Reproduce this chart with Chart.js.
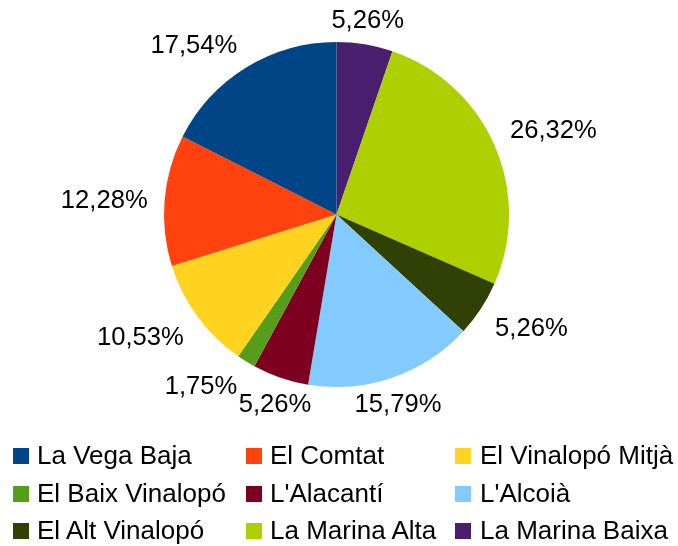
<!DOCTYPE html>
<html>
<head>
<meta charset="utf-8">
<script src="https://cdn.jsdelivr.net/npm/chart.js@4/dist/chart.umd.min.js"></script>
<style>
  body { margin: 0; background: #fff; font-family: "Liberation Sans", Arial, sans-serif; }
  #wrap { position: absolute; left: 0; top: 0; width: 678px; height: 430px; }
  #legend { position: absolute; left: 0; top: 0; width: 678px; height: 546px; pointer-events: none; }
  .item { position: absolute; font-size: 26px; line-height: 26px; color: #000; white-space: nowrap; }
  .box { position: absolute; width: 16px; height: 16px; }
</style>
</head>
<body>
<div id="wrap"><canvas id="graf"></canvas></div>
<div id="legend"></div>
<script>
const comarques = ["La Vega Baja", "El Comtat", "El Vinalopó Mitjà", "El Baix Vinalopó", "L'Alacantí",
  "L'Alcoià", "El Alt Vinalopó", "La Marina Alta", "La Marina Baixa"];
const percentatges = [17.54, 12.28, 10.53, 1.75, 5.26, 15.79, 5.26, 26.32, 5.26];
const colors = ["#004586", "#ff420e", "#ffd320", "#579d1c", "#7e0021", "#83caff", "#314004", "#aecf00", "#4b1f6f"];

// LibreOffice draws counter-clockwise from the top, Chart.js clockwise -> reverse
const labelsCw = comarques.slice().reverse();
const dataCw = percentatges.slice().reverse();
const colorsCw = colors.slice().reverse();

function fmt(v) {
  return v.toFixed(2).replace(".", ",") + "%";
}

const outsideLabels = {
  id: "outsideLabels",
  afterDatasetsDraw(chart) {
    const ctx = chart.ctx;
    const meta = chart.getDatasetMeta(0);
    const capH = 18;
    ctx.save();
    ctx.font = "25.6px 'Liberation Sans', Arial, sans-serif";
    ctx.fillStyle = "#000";
    meta.data.forEach((arc, i) => {
      const p = arc.getProps(["x", "y", "startAngle", "endAngle", "outerRadius"], true);
      const a = (p.startAngle + p.endAngle) / 2;
      const c = Math.cos(a), s = Math.sin(a);
      const R = p.outerRadius + 17;
      const ax = p.x + R * c;
      const ay = p.y + R * s;
      if (Math.abs(c) < 0.383) ctx.textAlign = "center";
      else ctx.textAlign = c > 0 ? "left" : "right";
      let by;
      if (Math.abs(s) < 0.383) by = ay + capH / 2;
      else by = s > 0 ? ay + capH : ay;
      ctx.textBaseline = "alphabetic";
      ctx.fillText(fmt(dataCw[i]), ax, by);
    });
    ctx.restore();
  }
};

new Chart(document.getElementById("graf"), {
  type: "pie",
  data: {
    labels: labelsCw,
    datasets: [{
      data: dataCw,
      backgroundColor: colorsCw,
      borderWidth: 0
    }]
  },
  options: {
    responsive: true,
    maintainAspectRatio: false,
    animation: false,
    events: [],
    layout: { padding: { left: 0, right: 5, top: 42, bottom: 43 } },
    plugins: { legend: { display: false }, tooltip: { enabled: false } }
  },
  plugins: [outsideLabels]
});

// legend grid, 3 columns, same order as the data
const colX = [13, 246, 455];
const textX = [37, 270, 480];
const rowY = [456, 494, 531];
const leg = document.getElementById("legend");
comarques.forEach((nom, i) => {
  const col = i % 3, row = Math.floor(i / 3);
  const box = document.createElement("div");
  box.className = "box";
  box.style.left = colX[col] + "px";
  box.style.top = (rowY[row] - 8) + "px";
  box.style.background = colors[i];
  leg.appendChild(box);
  const t = document.createElement("div");
  t.className = "item";
  t.style.left = textX[col] + "px";
  t.style.top = (rowY[row] - 14) + "px";
  t.textContent = nom;
  leg.appendChild(t);
});
</script>
</body>
</html>
